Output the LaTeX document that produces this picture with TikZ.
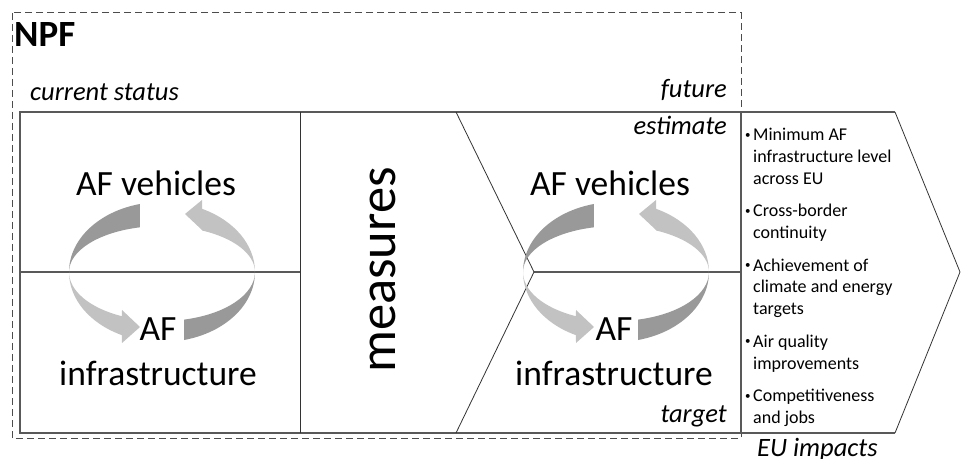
\documentclass[tikz,border=0pt]{standalone}
\usepackage{fontspec}
\setmainfont{Carlito}

\newcommand\dotitem{\llap{\raisebox{2.5pt}{\fontsize{11}{11}\selectfont\textbullet}\hspace{2.5pt}}}

\tikzset{
  frame/.style={draw=black!65, line width=1.3pt},
  slant/.style={draw=black!80, line width=0.8pt},
  darkband/.style={fill=black!40},
  lightband/.style={fill=black!24},
  big/.style={font=\fontsize{35.5}{45}\selectfont, align=center, inner sep=0pt},
  tag/.style={font=\fontsize{26.5}{30}\selectfont\itshape, inner sep=0pt},
}

\begin{document}
\begin{tikzpicture}[x=1pt,y=1pt]
  \useasboundingbox (0,0) rectangle (961,458);

  % national policy framework box
  \draw[black!70, line width=1pt, dash pattern=on 7pt off 4pt] (12,445) rectangle (741,20);
  \node[anchor=base west, inner sep=0pt, font=\fontsize{37}{40}\selectfont\bfseries] (npf) at (14,411) {NPF};

  % panels
  \draw[frame] (895,346) -- (20,346) -- (20,25) -- (895,25);
  \draw[frame] (741,346) -- (741,25);
  \draw[slant] (300,346) -- (300,25);
  \draw[frame] (20,186) -- (300,186);
  \draw[frame] (534,186) -- (741,186);
  \draw[slant] (456,346) -- (534,186) -- (456,25);
  \draw[slant] (895,346) -- (960,186) -- (895,25);

  % vehicles <-> infrastructure cycles
  \foreach \cx in {162,616} {
    \begin{scope}[shift={(\cx,186)}]
      \fill[darkband] (103.7:93 and 70) arc[start angle=103.7, end angle=180, x radius=93, y radius=70]
        arc[start angle=180, end angle=103.7, x radius=93, y radius=46] -- cycle;
      \fill[lightband] (180:93 and 70) arc[start angle=180, end angle=244.5, x radius=93, y radius=70]
        -- (-40,-71) -- (-22,-55) -- (-40,-38) -- (244.5:93 and 49)
        arc[start angle=244.5, end angle=180, x radius=93, y radius=49] -- cycle;
      \fill[darkband] (283.7:93 and 70) arc[start angle=283.7, end angle=360, x radius=93, y radius=70]
        arc[start angle=360, end angle=283.7, x radius=93, y radius=49] -- cycle;
      \fill[lightband] (0:93 and 70) arc[start angle=0, end angle=64.5, x radius=93, y radius=70]
        -- (40,72) -- (23,58) -- (40,42) -- (64.5:93 and 46)
        arc[start angle=64.5, end angle=0, x radius=93, y radius=46] -- cycle;
    \end{scope}
  }

  % labels
  \node[tag, anchor=base west] (now) at (30,357) {current status};
  \node[tag, anchor=base east] (future) at (727,360) {future};
  \node[tag, anchor=base east] (estimate) at (727,323) {estimate};
  \node[tag, anchor=base east] (target) at (727,36) {target};
  \node[tag, anchor=base west] (impacts) at (757,2) {EU impacts};

  \node[big, anchor=base] (vehL) at (156,262) {AF vehicles};
  \node[big, anchor=base] (infL) at (158,73) {AF\\infrastructure};
  \node[big, anchor=base] (vehR) at (610,262) {AF vehicles};
  \node[big, anchor=base] (infR) at (614,73) {AF\\infrastructure};

  \node[rotate=90, inner sep=0pt, font=\fontsize{52.5}{60}\selectfont] (measures) at (383,188) {measures};

  % EU impacts list
  \node[anchor=base west, align=left, inner sep=0pt, font=\fontsize{18}{21.5}\selectfont] (list) at (753,34.5)
    {\dotitem Minimum AF\\infrastructure level\\across EU\\[11.5pt]
     \dotitem Cross-border\\continuity\\[11.5pt]
     \dotitem Achievement of\\climate and energy\\targets\\[11.5pt]
     \dotitem Air quality\\improvements\\[11.5pt]
     \dotitem Competitiveness\\and jobs};
\end{tikzpicture}
\end{document}
